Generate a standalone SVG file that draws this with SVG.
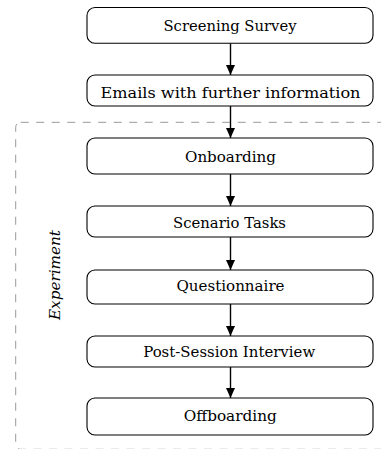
<svg xmlns="http://www.w3.org/2000/svg" width="381" height="449" viewBox="0 0 381 449">
<style>
.box{fill:#fff;stroke:#000;stroke-width:1.1}
.lbl{font-family:"DejaVu Serif",serif;font-size:15px;fill:#000;text-anchor:middle}
.conn{stroke:#000;stroke-width:1.4;fill:none}
.grp{fill:none;stroke:#999;stroke-width:1;stroke-dasharray:8 7.5}
.exp{font-family:"DejaVu Serif",serif;font-size:15px;font-style:italic;fill:#000;text-anchor:middle}
</style>
<defs>
<marker id="ah" viewBox="0 0 10 10" refX="10" refY="5" markerWidth="10" markerHeight="9" markerUnits="userSpaceOnUse" orient="auto" preserveAspectRatio="none">
<path d="M0,0 L10,5 L0,10 Z" fill="#000"/>
</marker>
</defs>
<g id="experiment-group">
<rect class="grp" x="15.7" y="122.3" width="420" height="327" rx="5"/>
<text class="exp" transform="translate(59.5,275) rotate(-90)" textLength="90" lengthAdjust="spacingAndGlyphs">Experiment</text>
</g>
<g id="connectors">
<line class="conn" x1="230.5" y1="43.3" x2="230.5" y2="75" marker-end="url(#ah)"/>
<line class="conn" x1="230.5" y1="106" x2="230.5" y2="138" marker-end="url(#ah)"/>
<line class="conn" x1="230.5" y1="174" x2="230.5" y2="206" marker-end="url(#ah)"/>
<line class="conn" x1="230.5" y1="237" x2="230.5" y2="270" marker-end="url(#ah)"/>
<line class="conn" x1="230.5" y1="304" x2="230.5" y2="336" marker-end="url(#ah)"/>
<line class="conn" x1="230.5" y1="367" x2="230.5" y2="398" marker-end="url(#ah)"/>
</g>
<g id="screening">
<rect class="box" x="87" y="7.5" width="286" height="35.8" rx="8"/>
<text class="lbl" x="230" y="30.5" textLength="133" lengthAdjust="spacingAndGlyphs">Screening Survey</text>
</g>
<g id="emails">
<rect class="box" x="87" y="75" width="286" height="31" rx="8"/>
<text class="lbl" x="230.5" y="97.5" textLength="260" lengthAdjust="spacingAndGlyphs">Emails with further information</text>
</g>
<g id="onboarding">
<rect class="box" x="87" y="138" width="286" height="36" rx="8"/>
<text class="lbl" x="230.5" y="161.5" textLength="91" lengthAdjust="spacingAndGlyphs">Onboarding</text>
</g>
<g id="scenario">
<rect class="box" x="87" y="206" width="286" height="31" rx="8"/>
<text class="lbl" x="229.5" y="228.3" textLength="113" lengthAdjust="spacingAndGlyphs">Scenario Tasks</text>
</g>
<g id="questionnaire">
<rect class="box" x="87" y="270" width="286" height="34" rx="8"/>
<text class="lbl" x="230.5" y="290.7" textLength="108" lengthAdjust="spacingAndGlyphs">Questionnaire</text>
</g>
<g id="interview">
<rect class="box" x="87" y="336" width="286" height="31" rx="8"/>
<text class="lbl" x="229.2" y="357.3" textLength="172" lengthAdjust="spacingAndGlyphs">Post-Session Interview</text>
</g>
<g id="offboarding">
<rect class="box" x="87" y="398" width="286" height="37" rx="8"/>
<text class="lbl" x="230.3" y="420.7" textLength="93" lengthAdjust="spacingAndGlyphs">Offboarding</text>
</g>
</svg>
